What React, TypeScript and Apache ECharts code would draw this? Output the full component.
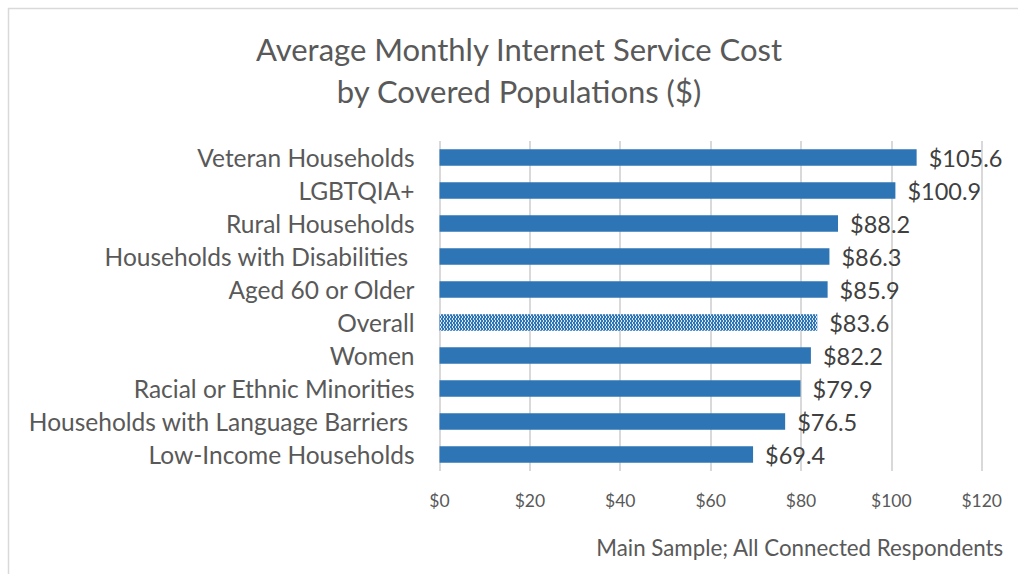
import React, { useEffect, useRef } from "react";
import * as echarts from "echarts";

const categories = [
  "Low-Income Households",
  "Households with Language Barriers ",
  "Racial or Ethnic Minorities",
  "Women",
  "Overall",
  "Aged 60 or Older",
  "Households with Disabilities ",
  "Rural Households",
  "LGBTQIA+",
  "Veteran Households",
];
const values = [69.4, 76.5, 79.9, 82.2, 83.6, 85.9, 86.3, 88.2, 100.9, 105.6];
const highlighted = "Overall";
const titleLines = ["Average Monthly Internet Service Cost", "by Covered Populations ($)"];
const footnote = "Main Sample; All Connected Respondents";
const xTicks = { min: 0, max: 120, interval: 20 };

const FONT = "Lato";
const BLUE = "#2e75b6";

export default function App() {
  const ref = useRef<HTMLDivElement>(null);
  useEffect(() => {
    if (!ref.current) return;
    const chart = echarts.init(ref.current, null, { renderer: "svg" });
    chart.setOption({
      animation: false,
      backgroundColor: "#ffffff",
      textStyle: { fontFamily: FONT },
      title: {
        text: titleLines.join("\n"),
        left: 514,
        textAlign: "center",
        top: 23,
        textStyle: {
          fontFamily: FONT,
          fontSize: 31,
          fontWeight: "normal",
          color: "#595959",
          lineHeight: 42,
        },
      },
      graphic: [
        {
          type: "rect",
          shape: { x: 8.5, y: 8.5, width: 1100, height: 700 },
          style: { fill: "none", stroke: "#d9d9d9", lineWidth: 1.5 },
          silent: true,
        },
        {
          type: "text",
          right: 14,
          top: 536,
          style: {
            text: footnote,
            fontFamily: FONT,
            fontSize: 22.3,
            fill: "#595959",
          },
        },
      ],
      grid: { left: 439.5, right: 36.3, top: 141, bottom: 103, containLabel: false },
      xAxis: {
        type: "value",
        min: xTicks.min,
        max: xTicks.max,
        interval: xTicks.interval,
        axisLine: { show: false },
        axisTick: { show: false },
        axisLabel: {
          formatter: (v: number) => "$" + v,
          fontFamily: FONT,
          fontSize: 17.5,
          color: "#595959",
          margin: 20,
        },
        splitLine: { lineStyle: { color: "#d9d9d9", width: 2 } },
      },
      yAxis: {
        type: "category",
        data: categories,
        axisLine: { show: false },
        axisTick: { show: false },
        axisLabel: {
          fontFamily: FONT,
          fontSize: 24.5,
          color: "#595959",
          margin: 25,
        },
      },
      series: [
        {
          type: "bar",
          barWidth: "50%",
          data: values.map((v, i) =>
            categories[i] === highlighted
              ? {
                  value: v,
                  itemStyle: {
                    color: "#dbe6f4",
                    decal: {
                      symbol: "rect",
                      symbolSize: 1,
                      color: BLUE,
                      dashArrayX: [
                        [2, 1],
                        [0, 1, 2, 0],
                      ],
                      dashArrayY: [2, 0],
                    },
                  },
                }
              : v
          ),
          itemStyle: { color: BLUE },
          label: {
            show: true,
            position: "right",
            distance: 12,
            formatter: (p: any) => "$" + p.value.toFixed(1),
            fontFamily: FONT,
            fontSize: 23.5,
            color: "#404040",
          },
        },
      ],
    });
    return () => chart.dispose();
  }, []);
  return (
    <div
      ref={ref}
      style={{ position: "fixed", left: 0, top: 0, width: 1018, height: 574 }}
    />
  );
}
